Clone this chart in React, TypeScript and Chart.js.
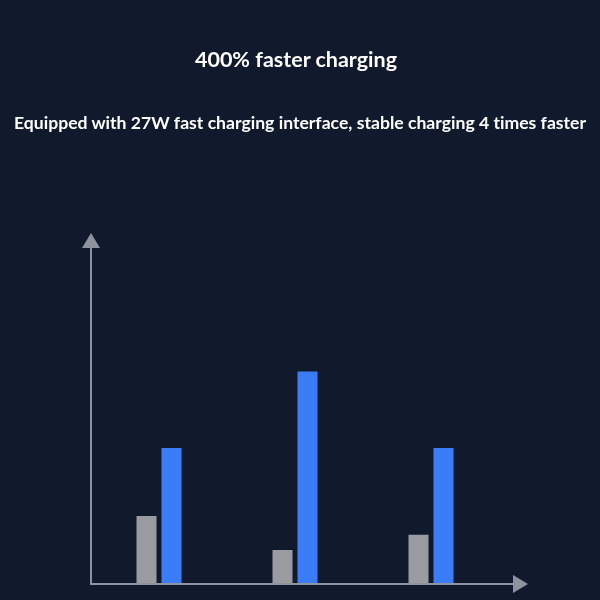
import { useEffect, useRef } from 'react';
import Chart from 'chart.js/auto';

// three chargers compared, arbitrary units
const categories = ['A', 'B', 'C'];
const normalCharging = [2, 1, 1.45];
const fastCharging = [4, 6.25, 4];
const yMax = 10;

const BG = '#111a2c';
const AXIS = '#8f939d';

// draws the two arrowed axes, on top of the bar bottoms
const arrowAxes = {
  id: 'arrowAxes',
  afterDatasetsDraw(chart: Chart) {
    const { ctx, chartArea } = chart;
    const { left, top, bottom, right } = chartArea;
    ctx.save();
    ctx.strokeStyle = AXIS;
    ctx.fillStyle = AXIS;
    ctx.lineWidth = 2;

    // y axis
    ctx.beginPath();
    ctx.moveTo(left, bottom + 1);
    ctx.lineTo(left, top + 2);
    ctx.stroke();
    ctx.beginPath();
    ctx.moveTo(left, top - 11);
    ctx.lineTo(left - 9, top + 4);
    ctx.lineTo(left + 9, top + 4);
    ctx.closePath();
    ctx.fill();

    // x axis
    ctx.beginPath();
    ctx.moveTo(left - 1, bottom);
    ctx.lineTo(right + 16, bottom);
    ctx.stroke();
    ctx.beginPath();
    ctx.moveTo(right + 29, bottom);
    ctx.lineTo(right + 14, bottom - 9);
    ctx.lineTo(right + 14, bottom + 9);
    ctx.closePath();
    ctx.fill();
    ctx.restore();
  }
};

export default function App() {
  const canvasRef = useRef<HTMLCanvasElement>(null);
  const chartRef = useRef<Chart | null>(null);

  useEffect(() => {
    if (!canvasRef.current) return;
    if (chartRef.current) chartRef.current.destroy();

    chartRef.current = new Chart(canvasRef.current, {
      type: 'bar',
      data: {
        labels: categories,
        datasets: [
          {
            label: 'Normal charging',
            data: normalCharging,
            backgroundColor: '#9a9ba1',
            borderWidth: 0,
            barPercentage: 0.8,
            categoryPercentage: 0.3676
          },
          {
            label: '27W fast charging',
            data: fastCharging,
            backgroundColor: '#3a7df6',
            borderWidth: 0,
            barPercentage: 0.8,
            categoryPercentage: 0.3676
          }
        ]
      },
      options: {
        animation: false,
        responsive: false,
        maintainAspectRatio: false,
        layout: {
          padding: { left: 91, right: 101, top: 244, bottom: 16 }
        },
        plugins: {
          legend: { display: false },
          tooltip: { enabled: false }
        },
        scales: {
          x: { display: false },
          y: { display: false, min: 0, max: yMax }
        }
      },
      plugins: [arrowAxes]
    });

    return () => {
      if (chartRef.current) {
        chartRef.current.destroy();
        chartRef.current = null;
      }
    };
  }, []);

  return (
    <div
      style={{
        position: 'fixed',
        left: 0,
        top: 0,
        width: 600,
        height: 600,
        background: BG,
        overflow: 'hidden'
      }}
    >
      <canvas
        ref={canvasRef}
        width={600}
        height={600}
        style={{ position: 'absolute', left: 0, top: 0, width: 600, height: 600 }}
        role="img"
        aria-label="Bar chart comparing normal and 27W fast charging."
      />
      <div
        style={{
          position: 'absolute',
          left: 0,
          width: 592,
          top: 48,
          textAlign: 'center',
          color: '#ffffff',
          fontFamily: 'Lato, "Open Sans", sans-serif',
          fontWeight: 700,
          fontSize: 21.5,
          lineHeight: '22px',
          fontVariantLigatures: 'none'
        }}
      >
        400% faster charging
      </div>
      <div
        style={{
          position: 'absolute',
          left: 0,
          width: 600,
          top: 114,
          textAlign: 'center',
          color: '#ffffff',
          fontFamily: 'Lato, "Open Sans", sans-serif',
          fontWeight: 700,
          fontSize: 17.6,
          lineHeight: '17px',
          whiteSpace: 'nowrap',
          fontVariantLigatures: 'none'
        }}
      >
        Equipped with 27W fast charging interface, stable charging 4 times faster
      </div>
    </div>
  );
}
